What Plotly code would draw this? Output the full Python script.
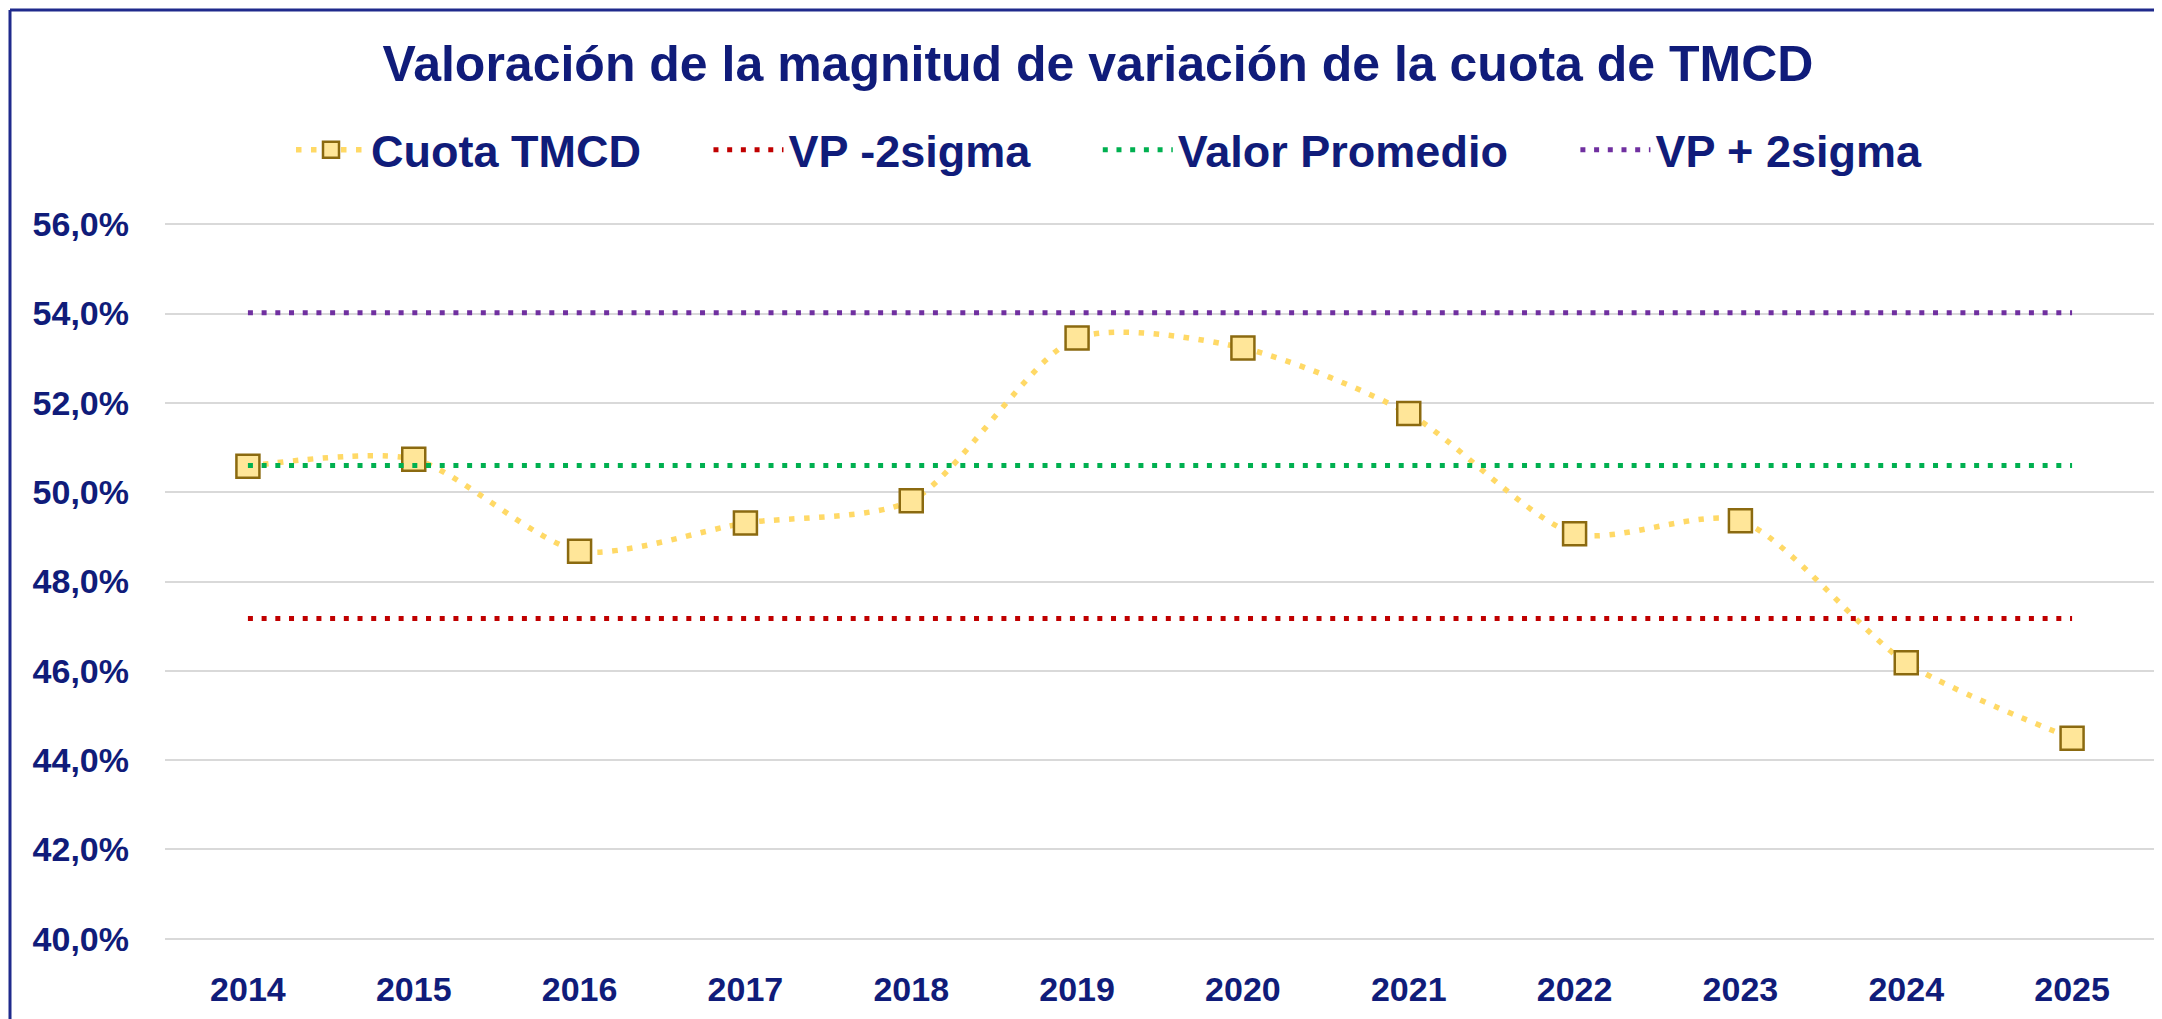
import plotly.graph_objects as go

# ---- data ----
years = ["2014", "2015", "2016", "2017", "2018", "2019", "2020", "2021", "2022", "2023", "2024", "2025"]
cuota_tmcd = [50.58, 50.74, 48.68, 49.31, 49.81, 53.45, 53.23, 51.76, 49.07, 49.36, 46.18, 44.49]
valor_promedio = 50.60
vp_menos_2sigma = 47.17
vp_mas_2sigma = 54.02

series_names = ["Cuota TMCD", "VP -2sigma", "Valor Promedio", "VP + 2sigma"]
title_text = "Valoración de la magnitud de variación de la cuota de TMCD"

NAVY = "#101C7A"
FONT = "Liberation Sans, Arial, sans-serif"
PAD = "\u00a0" * 5  # spacing after legend labels

# page is drawn with an 8px body margin; figure coords = page coords - 8
W, H = 2154, 1011
ML, MR, MT, MB = 157, 7, 214, 78
PW, PH = W - ML - MR, H - MT - MB

fig = go.Figure()

fig.add_trace(go.Scatter(
    x=years, y=cuota_tmcd, name=series_names[0] + PAD, mode="lines+markers",
    line=dict(color="#FFD966", width=5.5, dash="5.5px,9.5px", shape="spline", smoothing=0.75),
    marker=dict(symbol="square", size=23, color="#FFE699", line=dict(color="#8B6A10", width=2.5)),
))

for name, val, col in [(series_names[1], vp_menos_2sigma, "#C00000"),
                       (series_names[2], valor_promedio, "#00B050"),
                       (series_names[3], vp_mas_2sigma, "#7030A0")]:
    fig.add_trace(go.Scatter(
        x=years, y=[val] * len(years), name=name + PAD, mode="lines",
        line=dict(color=col, width=5, dash="5px,8.7px"),
    ))

# chart frame (top + left border)
fx = (2 - ML) / PW
fy = (H - MB - 2) / PH
fig.add_shape(type="line", xref="paper", yref="paper", x0=fx, x1=(W - ML) / PW, y0=fy, y1=fy,
              line=dict(color="#1F2A8C", width=3), layer="above")
fig.add_shape(type="line", xref="paper", yref="paper", x0=fx, x1=fx, y0=fy, y1=-(MB + 5) / PH,
              line=dict(color="#1F2A8C", width=3), layer="above")

fig.update_layout(
    width=W, height=H,
    margin=dict(l=ML, r=MR, t=MT, b=MB),
    paper_bgcolor="white", plot_bgcolor="white",
    separators=",.",
    font=dict(family=FONT, color=NAVY),
    title=dict(text=title_text, x=1090 / W, xanchor="center", xref="container",
               y=1 - 55 / H, yanchor="middle", yref="container",
               font=dict(size=50, color=NAVY, family=FONT, weight="bold")),
    legend=dict(orientation="h", x=(283 - ML) / PW, xanchor="left",
                y=(H - MB - 142) / PH, yanchor="middle",
                font=dict(size=45, color=NAVY, family=FONT, weight="bold"),
                itemwidth=70, bgcolor="rgba(0,0,0,0)"),
    showlegend=True,
    xaxis=dict(type="category", range=[-0.5, 11.5], showgrid=False, showline=False, zeroline=False,
               ticks="", ticklabelstandoff=25,
               tickfont=dict(size=34, color=NAVY, family=FONT, weight="bold")),
    yaxis=dict(range=[39.95, 56.05], dtick=2, tick0=40, tickformat=".1f", ticksuffix="%",
               showgrid=True, gridcolor="#D9D9D9", gridwidth=2, zeroline=False, showline=False,
               ticks="", ticklabelstandoff=35,
               tickfont=dict(size=34, color=NAVY, family=FONT, weight="bold")),
)

fig.write_html("out.html")
